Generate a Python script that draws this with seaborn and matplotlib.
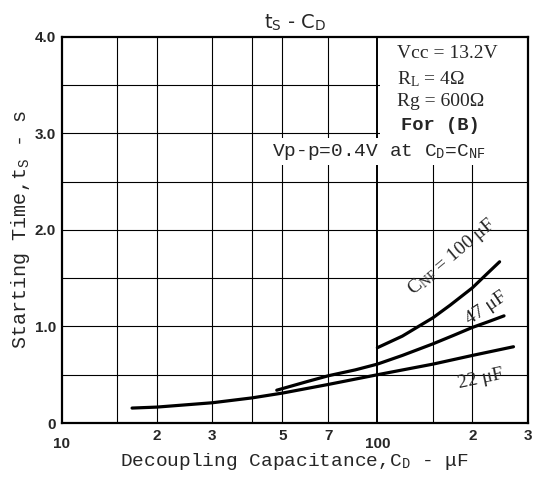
import matplotlib
matplotlib.use("Agg")
import matplotlib.pyplot as plt
import seaborn as sns
import pandas as pd
from matplotlib.patches import Rectangle
from matplotlib.ticker import FixedLocator, FixedFormatter

# curve data (C_D in uF, t_s in s)
cd_22 = [16.7, 20, 30, 40, 50, 70, 100, 150, 200, 270]
ts_22 = [0.155, 0.165, 0.21, 0.26, 0.31, 0.40, 0.50, 0.61, 0.70, 0.79]
cd_47 = [48, 60, 70, 85, 100, 120, 150, 175, 200, 225, 252]
ts_47 = [0.34, 0.43, 0.49, 0.55, 0.61, 0.70, 0.82, 0.91, 0.99, 1.05, 1.11]
cd_100 = [100, 120, 150, 170, 200, 220, 244]
ts_100 = [0.78, 0.90, 1.09, 1.22, 1.40, 1.53, 1.67]

x_major = [10, 100]
x_minor = [15, 20, 30, 40, 50, 70, 150, 200, 300]
x_minor_labels = ["", "2", "3", "", "5", "7", "", "2", "3"]
y_ticks = [0, 1, 2, 3, 4]
y_labels = ["0", "1.0", "2.0", "3.0", "4.0"]
y_grid = [0.5, 1.5, 2.5, 3.5]

sns.set_theme(style="white")
plt.rcParams["font.family"] = ["DejaVu Sans"]
plt.rcParams["mathtext.fontset"] = "custom"
plt.rcParams["mathtext.rm"] = "Liberation Mono"
plt.rcParams["mathtext.sf"] = "DejaVu Sans"
plt.rcParams["mathtext.it"] = "Liberation Serif"

mono = "Liberation Mono"
serif = "Liberation Serif"

fig = plt.figure(figsize=(5.42, 4.78), dpi=100)
ax = fig.add_axes([0.114, 0.115, 0.86, 0.808])

frames = [
    pd.DataFrame({"cd": cd_22, "ts": ts_22, "cnf": "22"}),
    pd.DataFrame({"cd": cd_47, "ts": ts_47, "cnf": "47"}),
    pd.DataFrame({"cd": cd_100, "ts": ts_100, "cnf": "100"}),
]
df = pd.concat(frames, ignore_index=True)
sns.lineplot(data=df, x="cd", y="ts", hue="cnf", palette=["black"] * 3,
             linewidth=2.3, legend=False, ax=ax, zorder=3)

ax.set_xscale("log")
ax.set_xlim(10, 300)
ax.set_ylim(0, 4.0)

ax.xaxis.set_major_locator(FixedLocator(x_major))
ax.xaxis.set_major_formatter(FixedFormatter(["10", "100"]))
ax.xaxis.set_minor_locator(FixedLocator(x_minor))
ax.xaxis.set_minor_formatter(FixedFormatter(x_minor_labels))
ax.set_yticks(y_ticks)
ax.set_yticklabels(y_labels)
ax.set_xlabel("")
ax.set_ylabel("")

# grid
for xv in x_minor[:-1]:
    ax.axvline(xv, color="black", lw=0.8, zorder=0.5)
ax.axvline(100, color="black", lw=1.4, zorder=0.5)
for yv in y_grid + [1, 2, 3]:
    ax.axhline(yv, color="black", lw=0.8, zorder=0.5)

# white areas behind the condition text
ax.add_patch(Rectangle((102, 2.95), 200, 1.05, facecolor="white", edgecolor="none", zorder=1))
ax.add_patch(Rectangle((46, 2.67), 254, 0.28, facecolor="white", edgecolor="none", zorder=1))

for s in ax.spines.values():
    s.set_color("black")
    s.set_linewidth(1.6)

ax.tick_params(axis="x", which="major", length=0, pad=10, labelsize=11)
ax.tick_params(axis="x", which="minor", length=4, width=0.8, color="black",
               direction="out", pad=0, labelsize=11)
ax.tick_params(axis="y", which="major", length=0, pad=4, labelsize=11)
for lab in ax.get_xticklabels(which="both") + ax.get_yticklabels():
    lab.set_fontweight("bold")
    lab.set_family("Liberation Sans")

ax.set_title(r"t$_{\mathsf{S}}$ - C$_{\mathsf{D}}$", fontsize=14, pad=6)
ax.set_xlabel(r"Decoupling Capacitance,C$_{\mathrm{D}}$ - μF", family=mono,
              fontsize=14, labelpad=0)
ax.set_ylabel(r"Starting Time,t$_{\mathrm{S}}$ - s", family=mono,
              fontsize=14.5, labelpad=2)

# condition text
tx = 115
ax.text(tx, 3.83, "Vcc = 13.2V", family=serif, fontsize=14, va="center", zorder=4)
ax.text(tx, 3.56, r"R$_{\mathit{L}}$ = 4Ω", family=serif, fontsize=14, va="center", zorder=4)
ax.text(tx, 3.33, "Rg = 600Ω", family=serif, fontsize=14, va="center", zorder=4)
ax.text(tx + 4, 3.08, "For (B)", family=mono, fontsize=13.5, fontweight="bold",
        va="center", zorder=4)
ax.text(46.5, 2.81, r"Vp-p=0.4V at C$_{\mathrm{D}}$=C$_{\mathrm{NF}}$", family=mono,
        fontsize=14, va="center", zorder=4)

# curve labels
ax.text(172, 1.72, r"C$_{\mathit{NF}}$ = 100 μF", family=serif, fontsize=14,
        rotation=40, ha="center", va="center", zorder=4)
ax.text(222, 1.19, "47 μF", family=serif, fontsize=14, rotation=34,
        ha="center", va="center", zorder=4)
ax.text(212, 0.46, "22 μF", family=serif, fontsize=14, rotation=12,
        ha="center", va="center", zorder=4)

fig.savefig("out.png", dpi=100)
